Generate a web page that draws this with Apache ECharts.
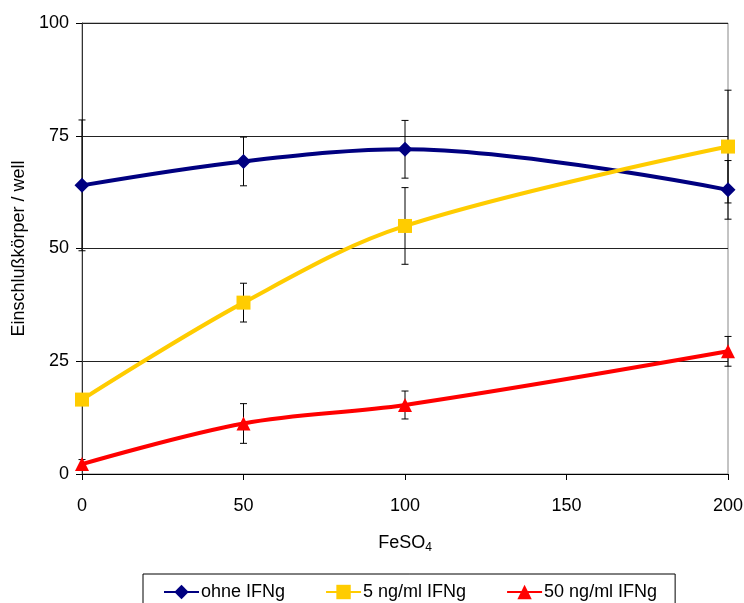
<!DOCTYPE html>
<html><head><meta charset="utf-8">
<script src="https://cdn.jsdelivr.net/npm/echarts@6/dist/echarts.min.js"></script>
<style>html,body{margin:0;padding:0;background:#fff}#c{width:744px;height:603px}</style>
</head><body><div id="c"></div>
<script>
const xValues = [0, 50, 100, 200];
const seriesNames = ['ohne IFNg', '5 ng/ml IFNg', '50 ng/ml IFNg'];
const ohneValues = [64.0, 69.3, 72.0, 63.0];
const ohneErrors = [14.5, 5.4, 6.4, 6.5];
const ng5Values = [16.5, 38.0, 55.0, 72.6];
const ng5Errors = [0.8, 4.3, 8.5, 12.5];
const ng50Values = [2.2, 11.2, 15.3, 27.2];
const ng50Errors = [1.0, 4.4, 3.1, 3.3];
const yTicks = [0, 25, 50, 75, 100];
const xTicks = [0, 50, 100, 150, 200];
const colors = ['#000080', '#FFCC00', '#FF0000'];
const symbols = ['diamond', 'rect', 'triangle'];

const FONT = '"Liberation Sans", Arial, sans-serif';
const chart = echarts.init(document.getElementById('c'), null, {renderer: 'canvas'});

function pairs(vals) { return xValues.map((x, i) => [x, vals[i]]); }
function errData(vals, errs) { return xValues.map((x, i) => [x, vals[i], errs[i]]); }

function errorSeries(vals, errs) {
  return {
    type: 'custom',
    data: errData(vals, errs),
    z: 1,
    silent: true,
    renderItem: function (params, api) {
      const x = api.value(0), y = api.value(1), e = api.value(2);
      const hi = api.coord([x, y + e]);
      const lo = api.coord([x, y - e]);
      const w = 3.5;
      const st = {stroke: '#000', lineWidth: 1};
      return {
        type: 'group',
        children: [
          {type: 'line', shape: {x1: hi[0], y1: hi[1], x2: lo[0], y2: lo[1]}, style: st},
          {type: 'line', shape: {x1: hi[0] - w, y1: hi[1], x2: hi[0] + w, y2: hi[1]}, style: st},
          {type: 'line', shape: {x1: lo[0] - w, y1: lo[1], x2: lo[0] + w, y2: lo[1]}, style: st}
        ]
      };
    }
  };
}

function lineSeries(idx, vals) {
  return {
    name: seriesNames[idx],
    type: 'line',
    data: pairs(vals),
    smooth: 0.35,
    symbol: symbols[idx],
    symbolSize: idx === 0 ? 15 : 14,
    z: 3,
    itemStyle: {color: colors[idx]},
    lineStyle: {color: colors[idx], width: 4}
  };
}

const option = {
  animation: false,
  backgroundColor: '#fff',
  textStyle: {fontFamily: FONT},
  grid: {left: 82, right: 16, top: 23, bottom: 129, show: true, borderColor: '#888', borderWidth: 1,
         containLabel: false, outerBoundsMode: 'none'},
  legend: {
    left: 143, top: 574, width: 535,
    data: seriesNames,
    padding: [9, 18, 9, 20],
    borderColor: '#000', borderWidth: 1,
    itemWidth: 35, itemHeight: 18, itemGap: 40,
    textStyle: {fontFamily: FONT, fontSize: 18, color: '#000', padding: [0, 0, 0, -3]}
  },
  xAxis: {
    type: 'value', min: 0, max: 200, interval: 50,
    name: '{a|FeSO}{b|4}',
    nameLocation: 'middle', nameGap: 58,
    nameTextStyle: {
      rich: {
        a: {fontFamily: FONT, fontSize: 18, color: '#000'},
        b: {fontFamily: FONT, fontSize: 12, color: '#000', padding: [10, 0, 0, 0]}
      }
    },
    axisLine: {show: true, onZero: false, lineStyle: {color: '#000', width: 1}},
    axisTick: {show: true, length: 6, inside: false, lineStyle: {color: '#000'}},
    axisLabel: {fontFamily: FONT, fontSize: 18, color: '#000', margin: 23},
    splitLine: {show: false}
  },
  yAxis: {
    type: 'value', min: 0, max: 100, interval: 25,
    name: 'Einschlußkörper / well',
    nameLocation: 'middle', nameGap: 54, nameRotate: 90,
    nameTextStyle: {fontFamily: FONT, fontSize: 18, color: '#000'},
    axisLine: {show: true, lineStyle: {color: '#333', width: 1}},
    axisTick: {show: true, length: 6, lineStyle: {color: '#000'}},
    axisLabel: {fontFamily: FONT, fontSize: 18, color: '#000', margin: 13},
    splitLine: {show: true, lineStyle: {color: '#222', width: 1}}
  },
  series: [
    errorSeries(ohneValues, ohneErrors),
    errorSeries(ng5Values, ng5Errors),
    errorSeries(ng50Values, ng50Errors),
    lineSeries(0, ohneValues),
    lineSeries(1, ng5Values),
    lineSeries(2, ng50Values)
  ]
};
chart.setOption(option);
</script>
</body></html>
